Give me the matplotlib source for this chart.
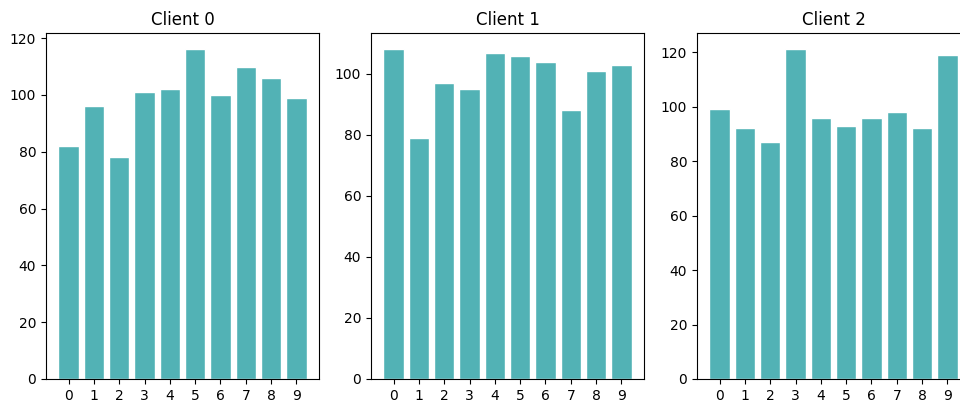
import numpy as np
import matplotlib
matplotlib.use("Agg")
import matplotlib.pyplot as plt

# label counts per client
classes = list(range(10))
client0 = [82, 96, 78, 101, 102, 116, 100, 110, 106, 99]
client1 = [108, 79, 97, 95, 107, 106, 104, 88, 101, 103]
client2 = [99, 92, 87, 121, 96, 93, 96, 98, 92, 119]
clients = [client0, client1, client2]
titles = ["Client 0", "Client 1", "Client 2"]

fig = plt.figure(figsize=(9.6, 4.05), dpi=100)

W, H = 960, 405
lefts = [46, 371, 697]
for i, counts in enumerate(clients):
    ax = fig.add_axes([lefts[i] / W, 26 / H, 273 / W, 346 / H])
    ax.bar(classes, counts, color="#52b2b5", edgecolor="white", linewidth=1)
    ax.set_xticks(classes)
    ax.set_title(titles[i], fontsize=12)
    ax.tick_params(labelsize=10)

fig.savefig("out.png", dpi=100)
